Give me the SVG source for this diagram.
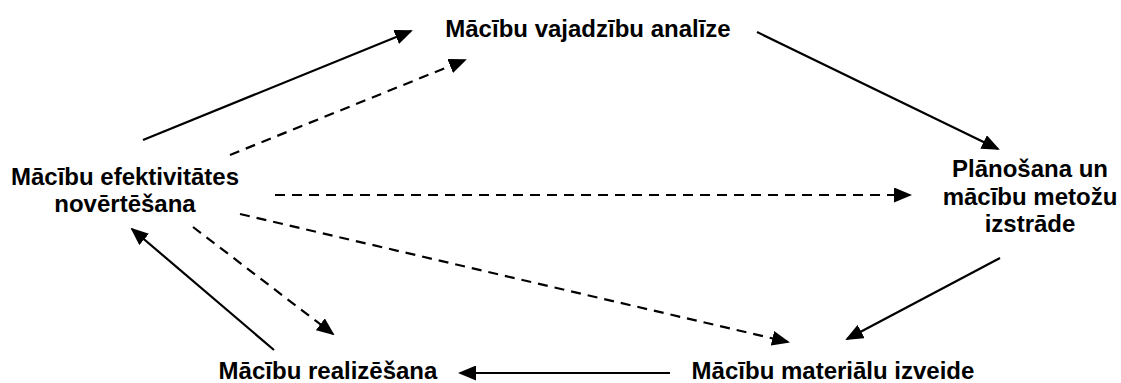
<svg xmlns="http://www.w3.org/2000/svg" width="1121" height="383" viewBox="0 0 1121 383">
  <style>
    .label { font-family: "Liberation Sans", Arial, sans-serif; font-size: 24px; font-weight: bold; fill: #000; text-anchor: middle; }
    .edge { fill: none; stroke: #000; stroke-width: 2.2; }
    .dashed { stroke-dasharray: 10 7; }
  </style>
  <defs>
    <!-- filled triangular arrowhead shared by every connector -->
    <marker id="head" markerUnits="userSpaceOnUse" markerWidth="18" markerHeight="15" refX="16" refY="7.5" orient="auto">
      <path d="M0,0 L18,7.5 L0,15 z" fill="#000"/>
    </marker>
  </defs>

  <g id="node-analysis">
    <text class="label" x="588" y="37">Mācību vajadzību analīze</text>
  </g>
  <g id="node-planning">
    <text class="label" x="1030" y="177">Plānošana un</text>
    <text class="label" x="1030" y="205">mācību metožu</text>
    <text class="label" x="1030" y="232">izstrāde</text>
  </g>
  <g id="node-materials">
    <text class="label" x="833" y="379">Mācību materiālu izveide</text>
  </g>
  <g id="node-delivery">
    <text class="label" x="328" y="379">Mācību realizēšana</text>
  </g>
  <g id="node-evaluation">
    <text class="label" x="125" y="185">Mācību efektivitātes</text>
    <text class="label" x="125" y="212">novērtēšana</text>
  </g>

  <g id="connectors">
    <!-- main cycle -->
    <line class="edge" x1="143" y1="140" x2="411" y2="31" marker-end="url(#head)"/>
    <line class="edge" x1="757" y1="32" x2="998" y2="149" marker-end="url(#head)"/>
    <line class="edge" x1="1000" y1="258" x2="847" y2="339" marker-end="url(#head)"/>
    <line class="edge" x1="670" y1="373" x2="460" y2="373" marker-end="url(#head)"/>
    <line class="edge" x1="274" y1="350" x2="132" y2="229" marker-end="url(#head)"/>
    <!-- feedback from evaluation -->
    <line class="edge dashed" x1="230" y1="155" x2="465" y2="60" marker-end="url(#head)"/>
    <line class="edge dashed" x1="275" y1="195" x2="910" y2="195" marker-end="url(#head)"/>
    <line class="edge dashed" x1="240" y1="214" x2="788" y2="342" marker-end="url(#head)"/>
    <line class="edge dashed" x1="193" y1="227" x2="333" y2="334" marker-end="url(#head)"/>
  </g>
</svg>
